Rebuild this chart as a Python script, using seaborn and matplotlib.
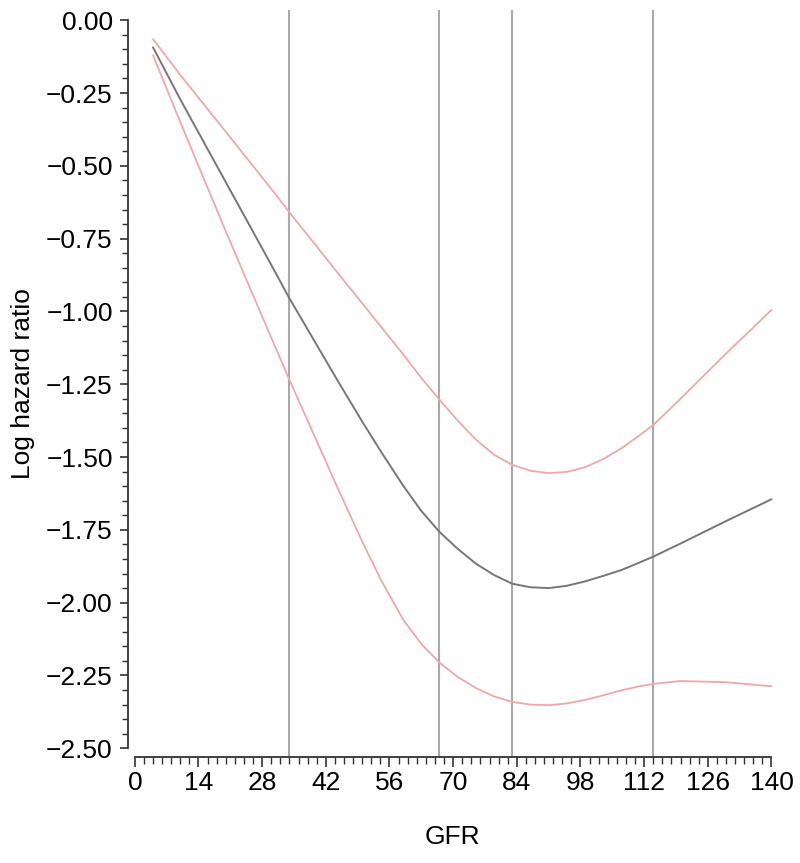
import numpy as np
import pandas as pd
import matplotlib
matplotlib.use("Agg")
import matplotlib.pyplot as plt
import seaborn as sns
from matplotlib.ticker import MultipleLocator, FuncFormatter

# GFR values and spline estimate with its 95% band
gfr = [4, 10, 20, 30, 34, 40, 45, 50, 54, 59, 63, 67, 71, 75, 79, 83, 87,
       91, 95, 99, 103, 107, 111, 114, 120, 130, 140]
log_hr = [-0.093, -0.272, -0.556, -0.84, -0.955, -1.115, -1.248, -1.378,
          -1.478, -1.598, -1.685, -1.757, -1.815, -1.866, -1.905, -1.935,
          -1.947, -1.950, -1.942, -1.927, -1.908, -1.888, -1.862, -1.842,
          -1.797, -1.72, -1.645]
upper_ci = [-0.065, -0.188, -0.383, -0.579, -0.66, -0.777, -0.875, -0.972,
            -1.05, -1.147, -1.228, -1.303, -1.375, -1.44, -1.492, -1.527,
            -1.547, -1.555, -1.551, -1.535, -1.507, -1.47, -1.425, -1.39,
            -1.30, -1.145, -0.995]
lower_ci = [-0.12, -0.35, -0.725, -1.09, -1.235, -1.445, -1.62, -1.79,
            -1.918, -2.058, -2.142, -2.206, -2.255, -2.293, -2.322, -2.341,
            -2.35, -2.352, -2.346, -2.334, -2.318, -2.301, -2.287, -2.279,
            -2.269, -2.273, -2.287]

# spline knot locations
knots = [34, 67, 83, 114]

sns.set_style("ticks")
plt.rcParams["font.family"] = ["Liberation Sans", "DejaVu Sans"]

df = pd.DataFrame({"GFR": gfr, "est": log_hr, "hi": upper_ci, "lo": lower_ci})

fig = plt.figure(figsize=(8, 8.63), dpi=100)
ax = fig.add_axes([0.16, 0.1228, 0.81, 0.8656])

for k in knots:
    ax.axvline(k, color="#a9a9a9", lw=1.5, zorder=1)

sns.lineplot(data=df, x="GFR", y="hi", color="#f2a7a7", lw=1.3, ax=ax, zorder=3)
sns.lineplot(data=df, x="GFR", y="lo", color="#f2a7a7", lw=1.3, ax=ax, zorder=3)
sns.lineplot(data=df, x="GFR", y="est", color="#777777", lw=1.4, ax=ax, zorder=4)

ax.set_xlim(-1.5, 141)
ax.set_ylim(-2.53, 0.035)

ax.xaxis.set_major_locator(MultipleLocator(14))
ax.xaxis.set_minor_locator(MultipleLocator(2))
ax.yaxis.set_major_locator(MultipleLocator(0.25))
ax.yaxis.set_minor_locator(MultipleLocator(0.05))
ax.yaxis.set_major_formatter(FuncFormatter(lambda v, p: f"{v:.2f}".replace("-", "\u2212")))

ax.tick_params(axis="x", which="major", length=7, width=1.2, labelsize=19, pad=3,
               color="#333333", labelcolor="black")
ax.tick_params(axis="x", which="minor", length=5, width=1.0, color="#333333")
ax.tick_params(axis="y", which="major", length=6, width=1.2, labelsize=19, pad=5,
               color="#333333", labelcolor="black")
ax.tick_params(axis="y", which="minor", length=4, width=1.0, color="#333333")

sns.despine(ax=ax)
ax.spines["left"].set_bounds(-2.5, 0)
ax.spines["bottom"].set_bounds(0, 140)
for s in ("left", "bottom"):
    ax.spines[s].set_linewidth(1.3)
    ax.spines[s].set_color("#333333")

ax.set_xlabel("GFR", fontsize=19, labelpad=22, color="black")
ax.set_ylabel("Log hazard ratio", fontsize=19, labelpad=8, color="black")

fig.savefig("out.png", dpi=100)
